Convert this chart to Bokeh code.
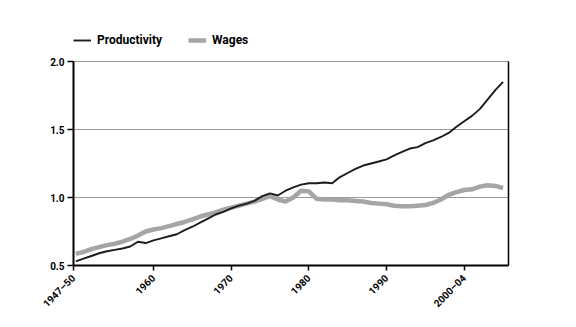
from bokeh.plotting import figure
from bokeh.layouts import column
from bokeh.models import Range1d, FixedTicker, LinearAxis, Legend, LegendItem
from bokeh.embed import file_html
from bokeh.resources import INLINE
import math

years = list(range(1950, 2006))
productivity = [0.53, 0.55, 0.57, 0.59, 0.605, 0.615, 0.625, 0.64, 0.675, 0.665,
                0.685, 0.70, 0.715, 0.73, 0.76, 0.785, 0.815, 0.845, 0.875, 0.895,
                0.92, 0.94, 0.955, 0.975, 1.01, 1.03, 1.015, 1.05, 1.075, 1.095,
                1.105, 1.105, 1.11, 1.105, 1.15, 1.18, 1.21, 1.235, 1.25, 1.265,
                1.28, 1.31, 1.335, 1.36, 1.37, 1.40, 1.42, 1.445, 1.475, 1.52,
                1.56, 1.60, 1.65, 1.72, 1.79, 1.85]
wages = [0.585, 0.60, 0.62, 0.635, 0.65, 0.66, 0.675, 0.695, 0.72, 0.75,
         0.765, 0.775, 0.79, 0.805, 0.82, 0.84, 0.86, 0.875, 0.89, 0.91,
         0.925, 0.94, 0.955, 0.97, 0.99, 1.01, 0.985, 0.97, 1.00, 1.05,
         1.045, 0.99, 0.985, 0.985, 0.98, 0.98, 0.975, 0.97, 0.96, 0.955,
         0.95, 0.94, 0.935, 0.935, 0.94, 0.945, 0.96, 0.985, 1.02, 1.04,
         1.055, 1.06, 1.08, 1.09, 1.085, 1.07]
x_ticks = [1949.7, 1960, 1970, 1980, 1990, 2000]
x_labels = ["1947–50", "1960", "1970", "1980", "1990", "2000–04"]
y_ticks = [0.5, 1.0, 1.5, 2.0]
series_names = ["Productivity", "Wages"]

FONT = "Roboto"
PROD_COLOR = "#1c1c1c"
WAGE_COLOR = "#a5a5a5"

# ---- main chart ----
p = figure(width=576, height=274, output_backend="svg", toolbar_location=None,
           x_range=Range1d(1949.7, 2005.7), y_range=Range1d(0.5, 2.0),
           min_border_left=73, min_border_right=68, min_border_top=8,
           min_border_bottom=62, background_fill_color="white",
           border_fill_color="white")

p.outline_line_color = "#9a9a9a"
p.outline_line_width = 1
p.xgrid.visible = False
p.ygrid.ticker = FixedTicker(ticks=y_ticks)
p.ygrid.grid_line_color = "#9a9a9a"
p.ygrid.grid_line_width = 1

xa = p.xaxis[0]
xa.ticker = FixedTicker(ticks=x_ticks)
xa.major_label_overrides = {t: l for t, l in zip(x_ticks, x_labels)}
xa.major_label_orientation = math.pi / 4
xa.axis_line_color = "black"
xa.axis_line_width = 2
xa.major_tick_line_color = "black"
xa.major_tick_line_width = 1.5
xa.major_tick_out = 5
xa.major_tick_in = 0
xa.minor_tick_line_color = None
xa.major_label_text_font = FONT
xa.major_label_text_font_style = "bold"
xa.major_label_text_font_size = "10px"
xa.major_label_text_color = "black"
xa.major_label_standoff = 6

ya = p.yaxis[0]
ya.ticker = FixedTicker(ticks=y_ticks)
ya.major_label_overrides = {0.5: "0.5", 1.0: "1.0", 1.5: "1.5", 2.0: "2.0"}
ya.axis_line_color = "black"
ya.axis_line_width = 2
ya.major_tick_line_color = "black"
ya.major_tick_line_width = 1.5
ya.major_tick_out = 6
ya.major_tick_in = 0
ya.minor_tick_line_color = None
ya.major_label_text_font = FONT
ya.major_label_text_font_style = "bold"
ya.major_label_text_font_size = "10px"
ya.major_label_text_color = "black"
ya.major_label_standoff = 3

ra = LinearAxis(ticker=FixedTicker(ticks=[]), axis_line_color="black",
                axis_line_width=1.5, major_label_text_font_size="0px",
                major_tick_line_color=None, minor_tick_line_color=None)
p.add_layout(ra, "right")

p.line(years, wages, line_color=WAGE_COLOR, line_width=4.5)
p.line(years, productivity, line_color=PROD_COLOR, line_width=1.9)

# ---- legend strip on top (series lie outside its visible range) ----
lg = figure(width=576, height=53, output_backend="svg", toolbar_location=None,
            x_range=Range1d(0, 1), y_range=Range1d(0, 1),
            min_border_left=0, min_border_right=0, min_border_top=0,
            min_border_bottom=0, background_fill_color="white",
            border_fill_color="white")
lg.axis.visible = False
lg.grid.visible = False
lg.outline_line_color = None
lp = lg.line(years, productivity, line_color=PROD_COLOR, line_width=1.9)
lw = lg.line(years, wages, line_color=WAGE_COLOR, line_width=4.5)

legend = Legend(items=[LegendItem(label=series_names[0], renderers=[lp]),
                       LegendItem(label=series_names[1], renderers=[lw])],
                orientation="horizontal", location=(0, 6),
                label_text_font=FONT, label_text_font_style="bold",
                label_text_font_size="12px", label_text_color="black",
                glyph_width=18, glyph_height=12, label_standoff=6,
                spacing=26, padding=0, margin=0,
                border_line_color=None, background_fill_alpha=0)
lg.add_layout(legend, "center")

layout = column(lg, p, spacing=0)
open("out.html", "w").write(file_html(layout, INLINE))
